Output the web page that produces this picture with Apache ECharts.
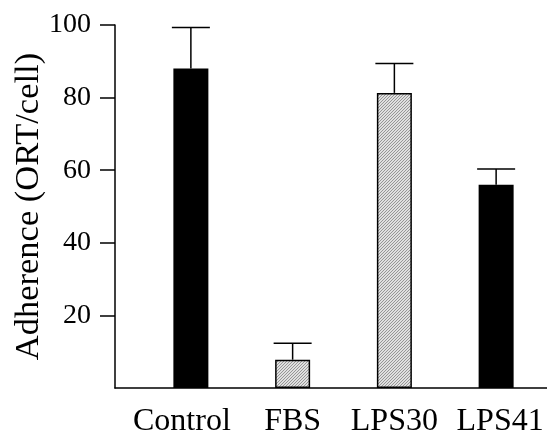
<!DOCTYPE html>
<html>
<head>
<meta charset="utf-8" />
<title>Adherence</title>
<script type="text/javascript" src="https://cdn.jsdelivr.net/npm/echarts@6/dist/echarts.min.js"></script>
<style>
  html, body { margin: 0; padding: 0; background: #fff; }
  #main { width: 547px; height: 439px; }
</style>
</head>
<body>
<div id="main"></div>
<script type="text/javascript">
// data
var categories = ['Control', 'FBS', 'LPS30', 'LPS41'];
var means = [88, 7.8, 81.3, 56];
var upper = [99.3, 12.3, 89.4, 60.3];
var yTicks = [20, 40, 60, 80, 100];

var FONT = 'Liberation Serif';

// fine diagonal hatch used for FBS / LPS30
function makeHatch() {
  var c = document.createElement('canvas');
  c.width = 3; c.height = 3;
  var ctx = c.getContext('2d');
  ctx.fillStyle = '#e0e0e0';
  ctx.fillRect(0, 0, 3, 3);
  ctx.fillStyle = '#969696';
  // one pixel per row, shifted -> diagonal stripes
  ctx.fillRect(2, 0, 1, 1);
  ctx.fillRect(1, 1, 1, 1);
  ctx.fillRect(0, 2, 1, 1);
  return c;
}
var hatch = { image: makeHatch(), repeat: 'repeat' };
var isHatched = [false, true, true, false];

var barData = means.map(function (v, i) {
  return {
    value: v,
    itemStyle: isHatched[i]
      ? { color: hatch, borderColor: '#000', borderWidth: 1.5 }
      : { color: '#000' }
  };
});

var errData = means.map(function (v, i) { return [i, v, upper[i]]; });

// labels in the original sit a little off-centre under the first and last bar
var labelRich = {
  l0: { fontFamily: FONT, fontSize: 32, color: '#000', padding: [0, 18, 0, 0] },
  l1: { fontFamily: FONT, fontSize: 32, color: '#000' },
  l2: { fontFamily: FONT, fontSize: 32, color: '#000' },
  l3: { fontFamily: FONT, fontSize: 32, color: '#000', padding: [0, 0, 0, 8] }
};

var myChart = echarts.init(document.getElementById('main'));
myChart.setOption({
  animation: false,
  grid: [
    { left: 115, right: 0, top: 25, bottom: 51, outerBoundsMode: 'none' },   // axis frame
    { left: 140, right: 0, top: 25, bottom: 51, outerBoundsMode: 'none' }    // bars
  ],
  xAxis: [
    {
      gridIndex: 0, type: 'value', min: 0, max: 1,
      axisLine: { show: true, lineStyle: { color: '#000', width: 1.5 } },
      axisTick: { show: false }, axisLabel: { show: false }, splitLine: { show: false }
    },
    {
      gridIndex: 1, type: 'category', data: categories,
      axisLine: { show: false }, axisTick: { show: false },
      axisLabel: {
        color: '#000', fontFamily: FONT, fontSize: 32, margin: 18, interval: 0,
        formatter: function (v, i) { return '{l' + i + '|' + v + '}'; },
        rich: labelRich
      }
    }
  ],
  yAxis: [
    {
      gridIndex: 0, type: 'value', min: 0, max: 100, interval: 20,
      name: 'Adherence (ORT/cell)', nameLocation: 'middle', nameGap: 69,
      nameMoveOverlap: false,
      nameTextStyle: { color: '#000', fontFamily: FONT, fontSize: 34.5 },
      axisLine: { show: true, lineStyle: { color: '#000', width: 1.5 } },
      axisTick: { show: true, length: 15, customValues: yTicks, lineStyle: { color: '#000', width: 1.5 } },
      axisLabel: { color: '#000', fontFamily: FONT, fontSize: 28, margin: 24, customValues: yTicks },
      splitLine: { show: false }
    },
    {
      gridIndex: 1, type: 'value', min: 0, max: 100, show: false
    }
  ],
  series: [
    {
      type: 'bar', xAxisIndex: 1, yAxisIndex: 1,
      barWidth: 35, data: barData, z: 3
    },
    {
      type: 'custom', xAxisIndex: 1, yAxisIndex: 1, z: 2,
      data: errData,
      renderItem: function (params, api) {
        var base = api.coord([api.value(0), api.value(1)]);
        var top = api.coord([api.value(0), api.value(2)]);
        var half = 19;
        var style = { stroke: '#000', lineWidth: 1.5 };
        return {
          type: 'group',
          children: [
            { type: 'line', shape: { x1: top[0], y1: base[1], x2: top[0], y2: top[1] }, style: style },
            { type: 'line', shape: { x1: top[0] - half, y1: top[1], x2: top[0] + half, y2: top[1] }, style: style }
          ]
        };
      }
    }
  ]
});
</script>
</body>
</html>
